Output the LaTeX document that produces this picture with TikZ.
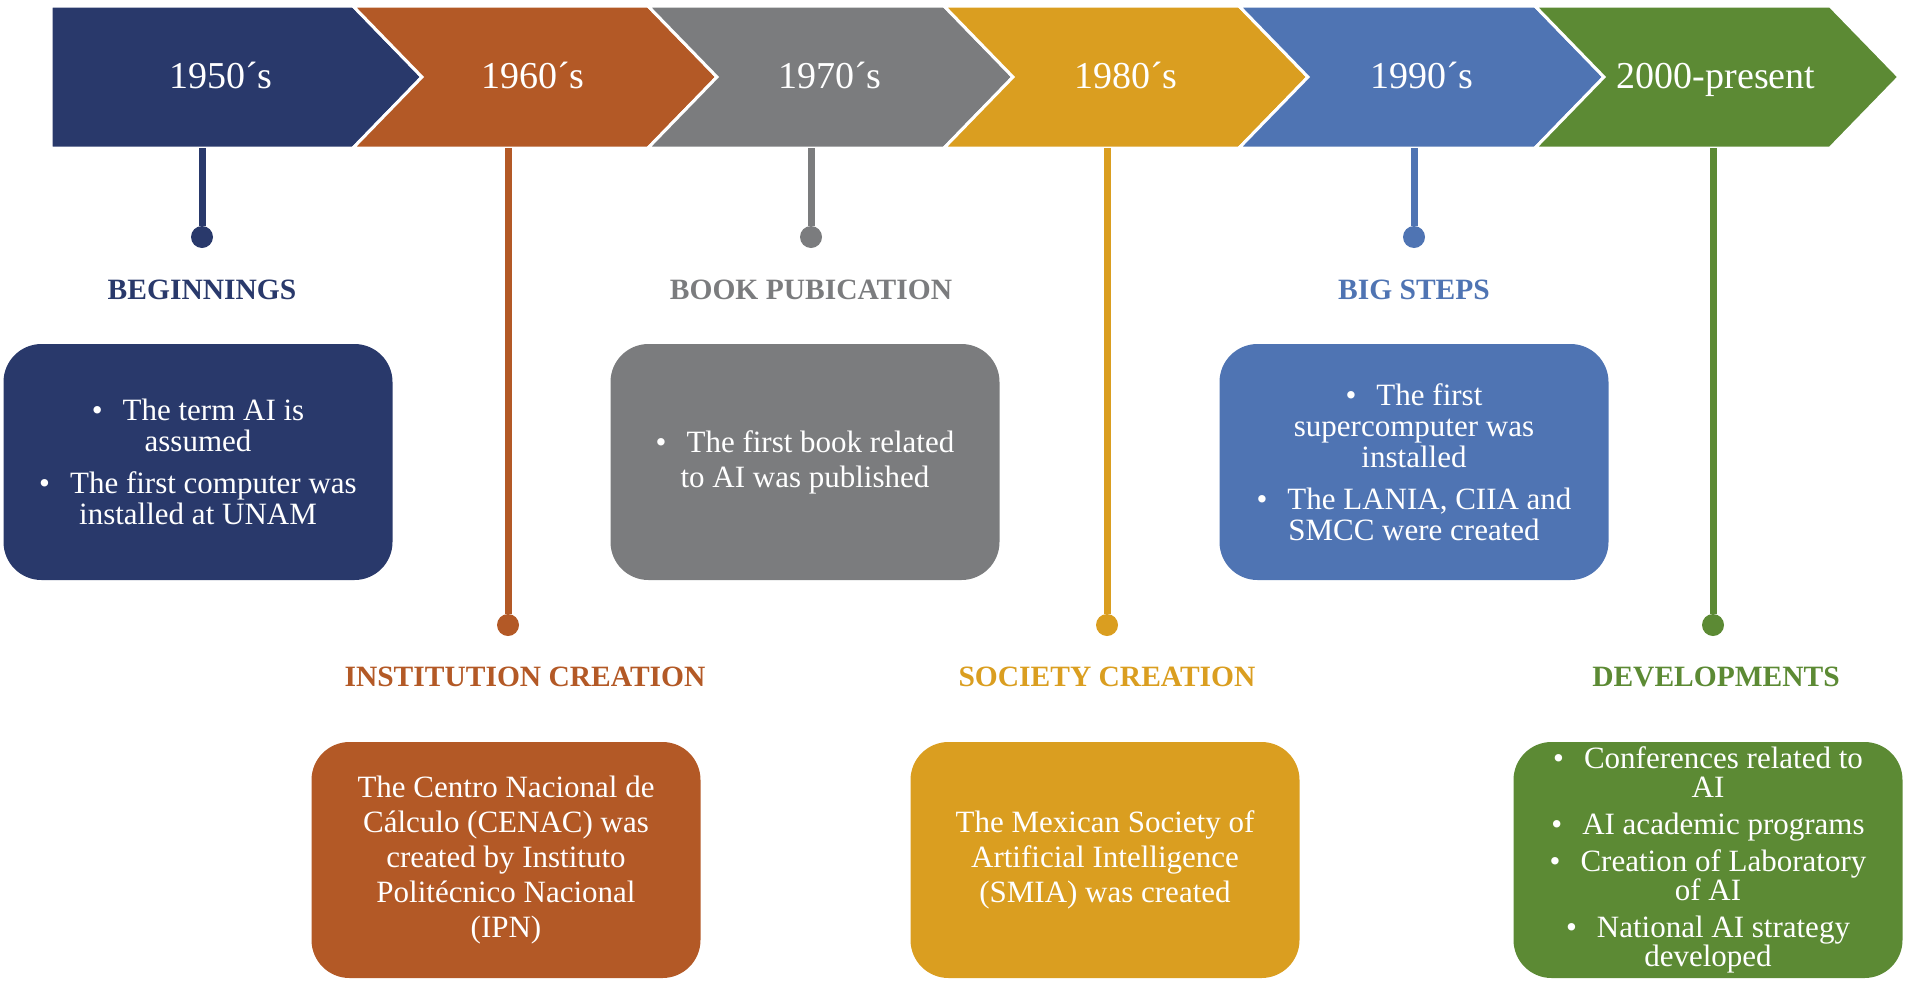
\documentclass[tikz,border=0pt]{standalone}
\usepackage{fontspec}
\setmainfont{Liberation Serif}
\definecolor{cnavy}{RGB}{41,57,107}
\definecolor{corange}{RGB}{179,89,38}
\definecolor{cgray}{RGB}{123,124,126}
\definecolor{cgold}{RGB}{218,158,32}
\definecolor{cblue}{RGB}{79,116,179}
\definecolor{cgreen}{RGB}{92,138,52}
\begin{document}
\begin{tikzpicture}[x=1pt, y=-1pt,
    band/.style = {draw=white, line width=3pt, line join=miter},
    year/.style = {text=white, anchor=base, font=\fontsize{38}{40}\selectfont},
    dot/.style = {circle, inner sep=0pt, minimum size=22pt},
    stem/.style = {line width=7pt},
    title/.style = {font=\fontsize{29.5}{32}\selectfont\bfseries},
    card/.style = {rounded corners=38pt, minimum width=389pt, minimum height=236pt,
        inner sep=2pt, align=center, text=white,
        font=\fontsize{31}{31}\selectfont},
    prose/.style = {font=\fontsize{31}{35}\selectfont}]
    \useasboundingbox (0,0) rectangle (1907,983);
    % arrow band
    \fill[cnavy, band] (51,6) -- (353,6) -- (422,77) -- (353,148) -- (51,148) -- cycle;
    \fill[corange, band] (353,6) -- (648,6) -- (717,77) -- (648,148) -- (353,148) -- (422,77) -- cycle;
    \fill[cgray, band] (648,6) -- (944,6) -- (1013,77) -- (944,148) -- (648,148) -- (717,77) -- cycle;
    \fill[cgold, band] (944,6) -- (1239,6) -- (1308,77) -- (1239,148) -- (944,148) -- (1013,77) -- cycle;
    \fill[cblue, band] (1239,6) -- (1535,6) -- (1604,77) -- (1535,148) -- (1239,148) -- (1308,77) -- cycle;
    \fill[cgreen, band] (1535,6) -- (1830,6) -- (1899,77) -- (1830,148) -- (1535,148) -- (1604,77) -- cycle;
    \node[year] (y1) at (221,88) {1950´s};
    \node[year] (y2) at (533,88) {1960´s};
    \node[year] (y3) at (830,88) {1970´s};
    \node[year] (y4) at (1126,88) {1980´s};
    \node[year] (y5) at (1422,88) {1990´s};
    \node[year] (y6) at (1716,88) {2000-present};
    % stems
    \coordinate (s1) at (202,148);
    \coordinate (s2) at (508,148);
    \coordinate (s3) at (811,148);
    \coordinate (s4) at (1107,148);
    \coordinate (s5) at (1414,148);
    \coordinate (s6) at (1713,148);
    \node[dot, fill=cnavy] (d1) at (202,237) {};
    \node[dot, fill=corange] (d2) at (508,625) {};
    \node[dot, fill=cgray] (d3) at (811,237) {};
    \node[dot, fill=cgold] (d4) at (1107,625) {};
    \node[dot, fill=cblue] (d5) at (1414,237) {};
    \node[dot, fill=cgreen] (d6) at (1713,625) {};
    \draw[stem, cnavy] (s1) -- (d1);
    \draw[stem, corange] (s2) -- (d2);
    \draw[stem, cgray] (s3) -- (d3);
    \draw[stem, cgold] (s4) -- (d4);
    \draw[stem, cblue] (s5) -- (d5);
    \draw[stem, cgreen] (s6) -- (d6);
    % titles
    \node[title, text=cnavy] (t1) at (202,290) {BEGINNINGS};
    \node[title, text=corange] (t2) at (525,677) {INSTITUTION CREATION};
    \node[title, text=cgray] (t3) at (811,290) {BOOK PUBICATION};
    \node[title, text=cgold] (t4) at (1107,677) {SOCIETY CREATION};
    \node[title, text=cblue] (t5) at (1414,290) {BIG STEPS};
    \node[title, text=cgreen] (t6) at (1716,677) {DEVELOPMENTS};
    % cards
    \node[card, fill=cnavy] (b1) at (198,462)
        {\textbullet\hspace{20pt}The term AI is\\assumed\\[11pt]
         \textbullet\hspace{20pt}The first computer was\\installed at UNAM};
    \node[card, prose, fill=corange] (b2) at (506,860)
        {The Centro Nacional de\\Cálculo (CENAC) was\\created by Instituto\\
         Politécnico Nacional\\(IPN)};
    \node[card, prose, fill=cgray] (b3) at (805,462)
        {\textbullet\hspace{20pt}The first book related\\to AI was published};
    \node[card, prose, fill=cgold] (b4) at (1105,860)
        {The Mexican Society of\\Artificial Intelligence\\(SMIA) was created};
    \node[card, fill=cblue] (b5) at (1414,462)
        {\textbullet\hspace{20pt}The first\\supercomputer was\\installed\\[11pt]
         \textbullet\hspace{20pt}The LANIA, CIIA and\\SMCC were created};
    \node[card, fill=cgreen, font=\fontsize{31}{29}\selectfont] (b6) at (1708,860)
        {\textbullet\hspace{20pt}Conferences related to\\AI\\[8pt]
         \textbullet\hspace{20pt}AI academic programs\\[8pt]
         \textbullet\hspace{20pt}Creation of Laboratory\\of AI\\[8pt]
         \textbullet\hspace{20pt}National AI strategy\\developed};
\end{tikzpicture}
\end{document}
